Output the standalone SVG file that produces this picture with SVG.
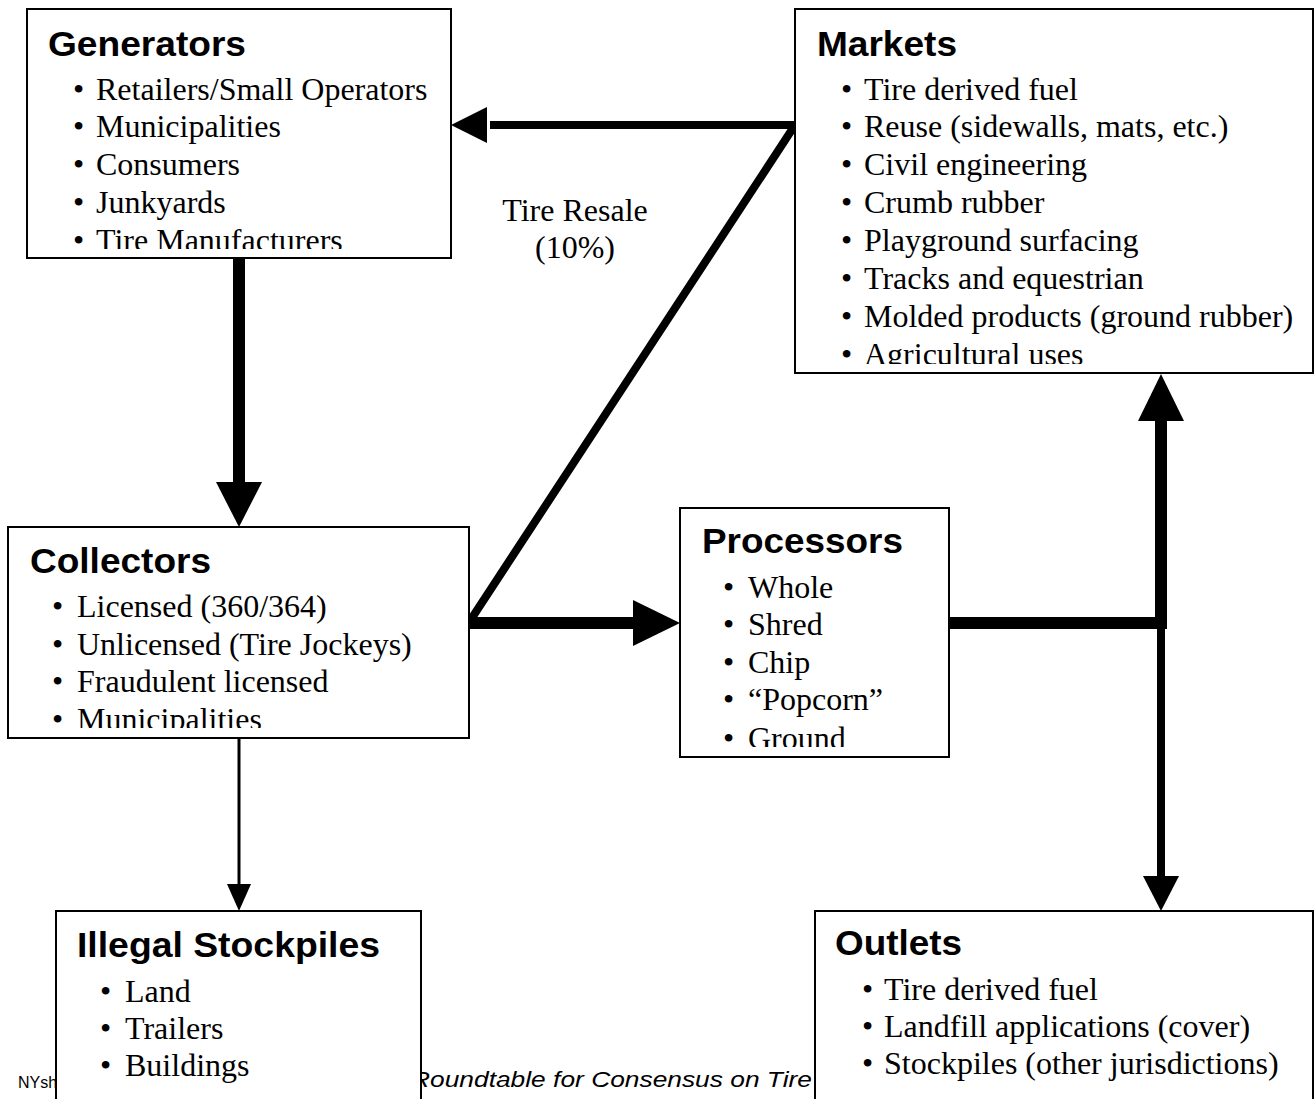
<svg xmlns="http://www.w3.org/2000/svg" width="1314" height="1099" viewBox="0 0 1314 1099">
<style>
.box{fill:#fff;stroke:#000;stroke-width:2}
.title{font-family:"Liberation Sans",Arial,sans-serif;font-weight:bold;font-size:35px;fill:#000}
.item{font-family:"Liberation Serif","Times New Roman",serif;font-size:32px;fill:#000}
.foot{font-family:"Liberation Sans",Arial,sans-serif;fill:#000}
.thick{stroke:#000;stroke-width:12;fill:none}
.mid{stroke:#000;stroke-width:8;fill:none;stroke-linejoin:miter;stroke-miterlimit:10}
.thin{stroke:#000;stroke-width:3;fill:none}
.head{fill:#000}
</style>
<defs>
<clipPath id="cGen" clipPathUnits="userSpaceOnUse"><rect x="27" y="9" width="424" height="240"/></clipPath>
<clipPath id="cMkt" clipPathUnits="userSpaceOnUse"><rect x="795" y="9" width="518" height="355"/></clipPath>
<clipPath id="cCol" clipPathUnits="userSpaceOnUse"><rect x="8" y="527" width="461" height="201"/></clipPath>
<clipPath id="cPro" clipPathUnits="userSpaceOnUse"><rect x="680" y="508" width="269" height="239"/></clipPath>
</defs>
<rect width="1314" height="1099" fill="#fff"/>
<g id="footer">
<text class="foot" x="18" y="1088" font-size="16">NYsh</text>
<text class="foot" x="411" y="1087" font-size="22" font-style="italic" textLength="401" lengthAdjust="spacingAndGlyphs">Roundtable for Consensus on Tire</text>
</g>
<g id="connectors">
<line class="thick" x1="239" y1="257" x2="239" y2="486"/>
<polygon class="head" points="216,482 239,527 262,482"/>
<line class="thin" x1="239" y1="737" x2="239" y2="888"/>
<polygon class="head" points="227,884 239,911 251,884"/>
<line class="thick" x1="462" y1="623" x2="638" y2="623"/>
<polygon class="head" points="633,600 680,623 633,646"/>
<polyline class="mid" points="466,627 795,125 490,125"/>
<polygon class="head" points="487,107 451,125 487,143"/>
<line class="thick" x1="948" y1="623" x2="1167" y2="623"/>
<line class="thick" x1="1161" y1="629" x2="1161" y2="415"/>
<polygon class="head" points="1138,421 1161,374 1184,421"/>
<line class="mid" x1="1161" y1="623" x2="1161" y2="880"/>
<polygon class="head" points="1143,876 1161,911 1179,876"/>
<text class="item" x="575" y="221" text-anchor="middle">Tire Resale</text>
<text class="item" x="575" y="258" text-anchor="middle">(10%)</text>
</g>
<g id="generators">
<rect class="box" x="27" y="9" width="424" height="249"/>
<text class="title" x="48" y="56" textLength="198" lengthAdjust="spacingAndGlyphs">Generators</text>
<g clip-path="url(#cGen)">
<text class="item" x="73" y="99.5">•</text><text class="item" x="96" y="99.5">Retailers/Small Operators</text>
<text class="item" x="73" y="137.4">•</text><text class="item" x="96" y="137.4">Municipalities</text>
<text class="item" x="73" y="175.2">•</text><text class="item" x="96" y="175.2">Consumers</text>
<text class="item" x="73" y="213.1">•</text><text class="item" x="96" y="213.1">Junkyards</text>
<text class="item" x="73" y="251">•</text><text class="item" x="96" y="251">Tire Manufacturers</text>
</g>
</g>
<g id="markets">
<rect class="box" x="795" y="9" width="518" height="364"/>
<text class="title" x="817" y="56" textLength="140" lengthAdjust="spacingAndGlyphs">Markets</text>
<g clip-path="url(#cMkt)">
<text class="item" x="841" y="99.5">•</text><text class="item" x="864" y="99.5">Tire derived fuel</text>
<text class="item" x="841" y="137.4">•</text><text class="item" x="864" y="137.4">Reuse (sidewalls, mats, etc.)</text>
<text class="item" x="841" y="175.2">•</text><text class="item" x="864" y="175.2">Civil engineering</text>
<text class="item" x="841" y="213.1">•</text><text class="item" x="864" y="213.1">Crumb rubber</text>
<text class="item" x="841" y="251">•</text><text class="item" x="864" y="251">Playground surfacing</text>
<text class="item" x="841" y="288.8">•</text><text class="item" x="864" y="288.8">Tracks and equestrian</text>
<text class="item" x="841" y="326.7">•</text><text class="item" x="864" y="326.7">Molded products (ground rubber)</text>
<text class="item" x="841" y="365">•</text><text class="item" x="864" y="365">Agricultural uses</text>
</g>
</g>
<g id="collectors">
<rect class="box" x="8" y="527" width="461" height="211"/>
<text class="title" x="30" y="573" textLength="181" lengthAdjust="spacingAndGlyphs">Collectors</text>
<g clip-path="url(#cCol)">
<text class="item" x="52" y="617">•</text><text class="item" x="77" y="617">Licensed (360/364)</text>
<text class="item" x="52" y="655">•</text><text class="item" x="77" y="655">Unlicensed (Tire Jockeys)</text>
<text class="item" x="52" y="692">•</text><text class="item" x="77" y="692">Fraudulent licensed</text>
<text class="item" x="52" y="730">•</text><text class="item" x="77" y="730">Municipalities</text>
</g>
</g>
<g id="processors">
<rect class="box" x="680" y="508" width="269" height="249"/>
<text class="title" x="702" y="553" textLength="201" lengthAdjust="spacingAndGlyphs">Processors</text>
<g clip-path="url(#cPro)">
<text class="item" x="723" y="598">•</text><text class="item" x="748" y="598">Whole</text>
<text class="item" x="723" y="635">•</text><text class="item" x="748" y="635">Shred</text>
<text class="item" x="723" y="673">•</text><text class="item" x="748" y="673">Chip</text>
<text class="item" x="723" y="710">•</text><text class="item" x="748" y="710">“Popcorn”</text>
<text class="item" x="723" y="749">•</text><text class="item" x="748" y="749">Ground</text>
</g>
</g>
<g id="illegal-stockpiles">
<rect class="box" x="56" y="911" width="365" height="200"/>
<text class="title" x="77" y="957" textLength="303" lengthAdjust="spacingAndGlyphs">Illegal Stockpiles</text>
<text class="item" x="100" y="1002">•</text><text class="item" x="125" y="1002">Land</text>
<text class="item" x="100" y="1039">•</text><text class="item" x="125" y="1039">Trailers</text>
<text class="item" x="100" y="1076">•</text><text class="item" x="125" y="1076">Buildings</text>
</g>
<g id="outlets">
<rect class="box" x="815" y="911" width="498" height="200"/>
<text class="title" x="835" y="955" textLength="127" lengthAdjust="spacingAndGlyphs">Outlets</text>
<text class="item" x="862" y="1000">•</text><text class="item" x="884" y="1000">Tire derived fuel</text>
<text class="item" x="862" y="1037">•</text><text class="item" x="884" y="1037">Landfill applications (cover)</text>
<text class="item" x="862" y="1074">•</text><text class="item" x="884" y="1074">Stockpiles (other jurisdictions)</text>
</g>
</svg>
